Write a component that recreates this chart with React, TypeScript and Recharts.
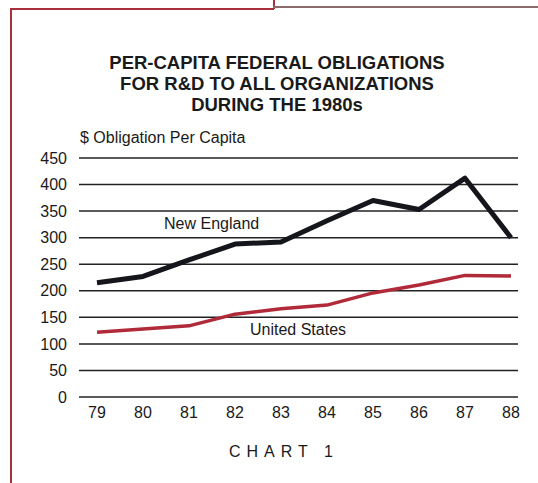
import { LineChart, Line, XAxis, YAxis, CartesianGrid } from 'recharts';

const years = ['79', '80', '81', '82', '83', '84', '85', '86', '87', '88'];
const newEngland = [215, 227, 258, 288, 292, 332, 370, 353, 412, 300];
const unitedStates = [122, 128, 134, 156, 166, 173, 196, 211, 229, 228];
const yTicks = [0, 50, 100, 150, 200, 250, 300, 350, 400, 450];

const data = years.map((y, i) => ({ year: y, ne: newEngland[i], us: unitedStates[i] }));

const font = '"Liberation Sans", Arial, Helvetica, sans-serif';

export default function App() {
    return (
        <div style={{ position: 'absolute', left: 0, top: 0, width: 538, height: 483, background: '#fff', fontFamily: font, overflow: 'hidden' }}>
            {/* scanned page frame */}
            <div style={{ position: 'absolute', left: 10, top: 9, width: 1.5, height: 480, background: '#a8303c' }} />
            <div style={{ position: 'absolute', left: 10, top: 8, width: 264, height: 1.5, background: '#a8303c' }} />
            <div style={{ position: 'absolute', left: 273, top: 0, width: 1.5, height: 9, background: '#a8303c' }} />
            <div style={{ position: 'absolute', left: 273, top: 6, width: 265, height: 1.5, background: '#8a6a6a' }} />

            <div style={{ position: 'absolute', left: 0, width: 554, top: 52, textAlign: 'center', fontWeight: 'bold', fontSize: 18.5, lineHeight: '21px', color: '#1a1a1a' }}>
                PER-CAPITA FEDERAL OBLIGATIONS<br />
                FOR R&amp;D TO ALL ORGANIZATIONS<br />
                DURING THE 1980s
            </div>
            <div style={{ position: 'absolute', left: 80, top: 129, fontSize: 16, color: '#1a1a1a' }}>
                $ Obligation Per Capita
            </div>

            <LineChart width={538} height={483} data={data} margin={{ top: 158, right: 20, bottom: 56, left: 0 }}>
                <CartesianGrid vertical={false} stroke="#222" strokeWidth={1.5} />
                <XAxis dataKey="year" axisLine={false} tickLine={false} height={30} tickMargin={4}
                    padding={{ left: 18, right: 7 }} interval={0}
                    tick={{ fill: '#1a1a1a', fontSize: 16, fontFamily: font }} />
                <YAxis domain={[0, 450]} ticks={yTicks} width={79} axisLine={false} tickLine={false} tickMargin={6}
                    tick={{ fill: '#1a1a1a', fontSize: 16, fontFamily: font }} />
                <Line dataKey="us" stroke="#b02a3a" strokeWidth={3.5} dot={false} type="linear" isAnimationActive={false} strokeLinejoin="round" />
                <Line dataKey="ne" stroke="#15151c" strokeWidth={5} dot={false} type="linear" isAnimationActive={false} strokeLinejoin="round" />
            </LineChart>

            <div style={{ position: 'absolute', left: 164, top: 215, fontSize: 16, color: '#1a1a1a' }}>New England</div>
            <div style={{ position: 'absolute', left: 250, top: 321, fontSize: 16, color: '#1a1a1a' }}>United States</div>
            <div style={{ position: 'absolute', left: 229, top: 443, fontSize: 16, letterSpacing: 6, color: '#1a1a1a' }}>CHART 1</div>
        </div>
    );
}
